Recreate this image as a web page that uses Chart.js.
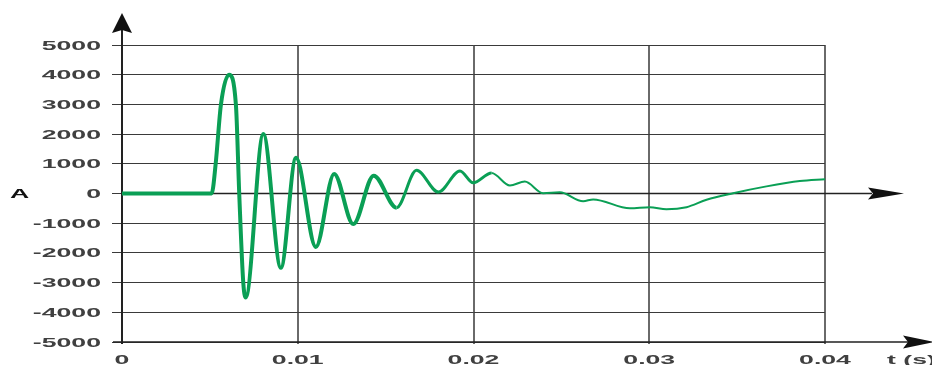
<!DOCTYPE html>
<html>
<head>
<meta charset="utf-8">
<script src="https://cdn.jsdelivr.net/npm/chart.js@4"></script>
<style>
  body { margin: 0; background: #fff; }
  #wrap { width: 932px; height: 365px; }
</style>
</head>
<body>
<div id="wrap"><canvas id="chart" width="932" height="365"></canvas></div>
<script>
// time (s) and current (A): onset, peaks and troughs
const T = [0, 0.00510, 0.00533, 0.00563, 0.00609, 0.00648, 0.00667, 0.00690, 0.00704,
  0.00804, 0.00904, 0.00990, 0.01103, 0.01207, 0.01316, 0.01432, 0.01562,
  0.01676, 0.01800, 0.01923, 0.01998, 0.02103, 0.02207, 0.02292, 0.02397,
  0.02491, 0.02624, 0.02681, 0.02890, 0.03003, 0.03098, 0.03212, 0.03326,
  0.03477, 0.03667, 0.03857, 0.04000];
const I = [0, 0, 1000, 3000, 4000, 3000, 0, -3000, -3500,
  2000, -2500, 1200, -1800, 660, -1030, 600, -480,
  780, 50, 760, 360, 690, 270, 400, 10,
  40, -260, -200, -500, -460, -530, -460, -210,
  10, 240, 420, 480];

const xTickValues = [0, 0.01, 0.02, 0.03, 0.04];
const xTickLabels = ['0', '0.01', '0.02', '0.03', '0.04'];
const yTickValues = [5000, 4000, 3000, 2000, 1000, 0, -1000, -2000, -3000, -4000, -5000];
const yTickLabels = ['5000', '4000', '3000', '2000', '1000', '0', '-1000', '-2000', '-3000', '-4000', '-5000'];

const GREEN = '#0a9f55';
const SX = 2.05; // the original labels are stretched sideways

function wideText(ctx, text, x, y, align) {
  ctx.save();
  ctx.translate(x, y);
  ctx.scale(SX, 1);
  ctx.textAlign = align;
  ctx.fillText(text, 0, 0);
  ctx.restore();
}

// barbed arrow head pointing right (dir 'r') or up (dir 'u')
function arrowHead(ctx, tx, ty, dir, len, half, notch) {
  ctx.save();
  ctx.translate(tx, ty);
  if (dir === 'u') ctx.rotate(-Math.PI / 2);
  ctx.beginPath();
  ctx.moveTo(0, 0);
  ctx.lineTo(-len, -half);
  ctx.lineTo(-len + notch, 0);
  ctx.lineTo(-len, half);
  ctx.closePath();
  ctx.fillStyle = '#111';
  ctx.fill();
  ctx.restore();
}

const axesPlugin = {
  id: 'axes',
  beforeDatasetsDraw(chart) {
    const ctx = chart.ctx;
    const x = chart.scales.x, y = chart.scales.y;
    const x0 = x.getPixelForValue(0);
    const y0 = y.getPixelForValue(0);
    const yb = y.getPixelForValue(-5000);
    ctx.save();
    ctx.strokeStyle = '#222';
    // vertical axis with arrow
    ctx.lineWidth = 2;
    ctx.beginPath();
    ctx.moveTo(x0, 28);
    ctx.lineTo(x0, yb + 2);
    ctx.stroke();
    // zero line and bottom line run past the grid
    ctx.lineWidth = 1.3;
    ctx.beginPath();
    ctx.moveTo(x0, y0);
    ctx.lineTo(872, y0);
    ctx.moveTo(113, yb);
    ctx.lineTo(910, yb);
    ctx.stroke();
    ctx.restore();
    arrowHead(ctx, x0, 13, 'u', 20, 10, 3);
    arrowHead(ctx, 904, y0, 'r', 36, 6, 5);
    arrowHead(ctx, 935, yb, 'r', 32, 6.5, 5);
  },
  afterDraw(chart) {
    const ctx = chart.ctx;
    const x = chart.scales.x, y = chart.scales.y;
    ctx.save();
    ctx.fillStyle = '#404040';
    ctx.font = 'bold 13px "Liberation Sans", Arial, sans-serif';
    ctx.textBaseline = 'middle';
    yTickValues.forEach((v, i) => {
      wideText(ctx, yTickLabels[i], 101, y.getPixelForValue(v) + 1, 'right');
    });
    ctx.textBaseline = 'alphabetic';
    xTickValues.forEach((v, i) => {
      wideText(ctx, xTickLabels[i], x.getPixelForValue(v), 364, 'center');
    });
    wideText(ctx, 't (s)', 887, 364, 'left');
    ctx.fillStyle = '#111';
    ctx.textBaseline = 'middle';
    wideText(ctx, 'A', 10, y.getPixelForValue(0) + 1, 'left');
    ctx.restore();
  }
};

new Chart(document.getElementById('chart'), {
  type: 'line',
  data: {
    datasets: [{
      data: T.map((t, i) => ({ x: t, y: I[i] })),
      borderColor: GREEN,
      borderWidth: 4,
      pointRadius: 0,
      cubicInterpolationMode: 'monotone',
      fill: false,
      segment: {
        borderWidth: ctx => ctx.p0.parsed.x >= 0.0200 ? 2 : (ctx.p0.parsed.x >= 0.0150 ? 3 : 4)
      }
    }]
  },
  options: {
    responsive: false,
    animation: false,
    devicePixelRatio: 1,
    layout: { padding: { left: 0, right: 107, top: 45, bottom: 0 } },
    plugins: {
      legend: { display: false },
      tooltip: { enabled: false }
    },
    scales: {
      x: {
        type: 'linear',
        min: 0,
        max: 0.04,
        ticks: { stepSize: 0.01, display: false },
        grid: { color: '#6a6a6a', lineWidth: 2, tickLength: 2 },
        border: { display: false },
        afterFit(s) { s.height = 23; }
      },
      y: {
        min: -5000,
        max: 5000,
        ticks: { stepSize: 1000, display: false },
        grid: { color: '#3a3a3a', lineWidth: 1, tickLength: 10 },
        border: { display: false },
        afterFit(s) { s.width = 122; }
      }
    }
  },
  plugins: [axesPlugin]
});
</script>
</body>
</html>
